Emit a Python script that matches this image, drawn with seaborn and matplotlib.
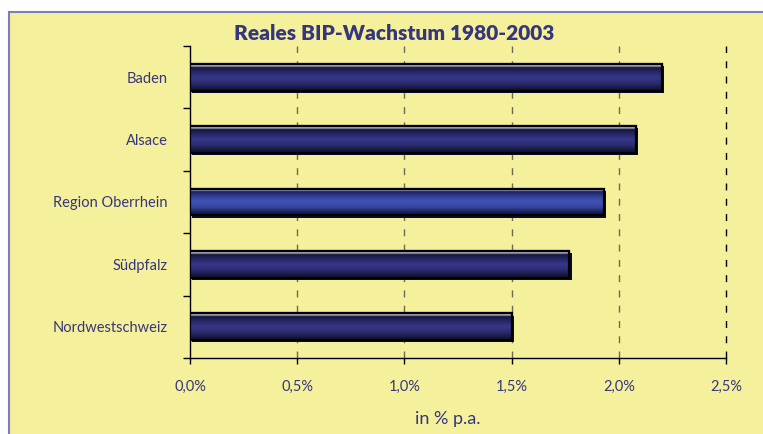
import numpy as np
import pandas as pd
import matplotlib
matplotlib.use("Agg")
import matplotlib.pyplot as plt
import seaborn as sns
from matplotlib.patches import Rectangle
import matplotlib.patheffects as pe
from matplotlib.colors import LinearSegmentedColormap

# ---- data ----
regions = ["Baden", "Alsace", "Region Oberrhein", "Südpfalz", "Nordwestschweiz"]
growth = [2.20, 2.08, 1.93, 1.77, 1.50]
xticks = [0.0, 0.5, 1.0, 1.5, 2.0, 2.5]
xtick_labels = ["0,0%", "0,5%", "1,0%", "1,5%", "2,0%", "2,5%"]
title = "Reales BIP-Wachstum 1980-2003"
xlabel = "in % p.a."
highlight = "Region Oberrhein"

# ---- style ----
sns.set_theme(style="white")
plt.rcParams["font.family"] = ["Lato", "DejaVu Sans"]

bg = "#f5f09b"
navy = "#36367f"
W, H = 763, 434

fig = plt.figure(figsize=(W / 100, H / 100), dpi=100)
fig.patch.set_facecolor("white")
frame = Rectangle((8.5 / W, -0.05), 1.2, 1 - 11.5 / H + 0.05,
                  transform=fig.transFigure, facecolor=bg,
                  edgecolor="#7c7cb9", lw=1.5, zorder=-10)
fig.patches.append(frame)

ax = fig.add_axes([190 / W, 1 - 358 / H, 536 / W, 312 / H])
ax.set_facecolor("none")

df = pd.DataFrame({"region": regions, "growth": growth})
palette = {r: ("#3b4aa3" if r == highlight else "#30307a") for r in regions}
sns.barplot(data=df, y="region", x="growth", hue="region", palette=palette,
            orient="h", width=0.43, edgecolor="black", linewidth=1.5,
            legend=False, ax=ax, saturation=1, zorder=3)

# gradient shading + shadow
for p, r in zip(ax.patches, regions):
    if r == highlight:
        cols = [(0.0, "#b4b4c8"), (0.07, "#b4b4c8"), (0.12, "#1c2260"),
                (0.35, "#3446a0"), (0.5, "#3f53b2"), (0.7, "#3446a0"),
                (0.9, "#1a1f55"), (1.0, "#10123a")]
    else:
        cols = [(0.0, "#aeaebc"), (0.07, "#aeaebc"), (0.12, "#16163e"),
                (0.35, "#2c2c72"), (0.5, "#37378a"), (0.7, "#2c2c72"),
                (0.9, "#18183e"), (1.0, "#0e0e2c")]
    cmap = LinearSegmentedColormap.from_list("g", cols)
    grad = np.linspace(0, 1, 120).reshape(-1, 1)
    x0, y0 = p.get_x(), p.get_y()
    w, h = p.get_width(), p.get_height()
    p.set_path_effects([pe.SimplePatchShadow(offset=(1.6, -1.6),
                                             shadow_rgbFace="#0a0a30", alpha=1),
                        pe.Normal()])
    im = ax.imshow(grad, cmap=cmap, aspect="auto", origin="upper",
                   extent=(x0, x0 + w, y0 + h, y0), zorder=3.1,
                   interpolation="bilinear")
    im.set_clip_path(p)
    ax.add_patch(Rectangle((x0, y0), w, h, fill=False, ec="black",
                           lw=1.6, zorder=3.2))

ax.set_xlim(0, 2.5)
ax.set_ylim(4.5, -0.5)

# grid
ax.set_xticks(xticks)
ax.set_xticklabels(xtick_labels)
ax.grid(axis="x", linestyle=(0, (5, 6)), linewidth=1.0, color="#6d6b4f")
ax.grid(axis="y", visible=False)
gl = ax.xaxis.get_gridlines()
gl[0].set_visible(False)
gl[-1].set_color("black")
gl[-1].set_clip_on(False)
ax.set_axisbelow(True)

# spines
for s in ["top", "right"]:
    ax.spines[s].set_visible(False)
for s in ["left", "bottom"]:
    ax.spines[s].set_color("black")
    ax.spines[s].set_linewidth(1.0)

# ticks
ax.tick_params(axis="x", which="major", direction="out", length=4, width=1,
               color="black", pad=12, labelsize=10.5, labelcolor=navy,
               bottom=True)
ax.tick_params(axis="y", which="major", length=0, pad=16, labelsize=10.5,
               labelcolor=navy, left=True)
ax.set_yticks(np.arange(-0.5, 5.0, 1.0), minor=True)
ax.tick_params(axis="y", which="minor", direction="out", length=5, width=1,
               color="black", left=True)
ax.set_xlabel("")
ax.set_ylabel("")

fig.text(394 / W, 1 - 33 / H, title, ha="center", va="center",
         fontsize=15, fontweight="heavy", color=navy)
fig.text(448 / W, 1 - 419 / H, xlabel, ha="center", va="center",
         fontsize=13, color=navy)

fig.savefig("out.png", dpi=100)
